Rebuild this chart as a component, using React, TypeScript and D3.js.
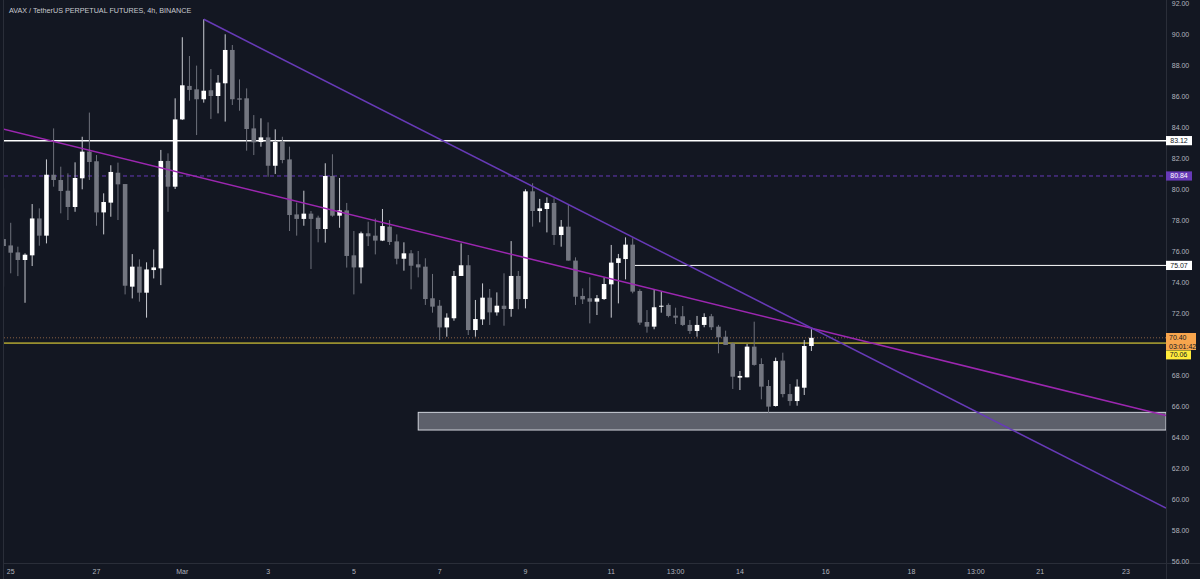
import { useEffect } from 'react';
import * as d3 from 'd3';

// 4h bars of AVAX/USDT perp, first bar is Feb 24 20:00 (index -1)
const firstBar = -1;
// open, high, low, close
const candles: [number, number, number, number][] = [
  [76.77, 80.04, 73.7, 76.32],
  [76.36, 77.82, 74.56, 75.89],
  [75.91, 76.28, 74.38, 75.42],
  [75.42, 75.85, 72.66, 75.76],
  [75.72, 79.03, 75.03, 78.1],
  [78.1, 78.75, 76.34, 76.99],
  [76.99, 81.91, 76.49, 80.92],
  [80.92, 83.91, 80.15, 80.58],
  [80.58, 81.44, 78.43, 79.87],
  [79.89, 81.01, 78.0, 78.84],
  [78.84, 81.72, 78.53, 80.71],
  [80.69, 83.37, 79.98, 82.41],
  [82.41, 84.93, 80.58, 81.74],
  [81.79, 82.19, 77.63, 78.49],
  [78.49, 79.72, 77.07, 79.16],
  [79.12, 81.53, 78.21, 81.1],
  [81.05, 81.7, 78.0, 80.3],
  [80.32, 80.32, 73.2, 73.76],
  [73.7, 75.8, 72.94, 74.99],
  [74.99, 75.46, 72.73, 73.31],
  [73.31, 75.27, 71.7, 74.81],
  [74.77, 76.1, 74.23, 74.94],
  [74.88, 82.52, 73.8, 81.81],
  [81.81, 82.3, 78.53, 80.15],
  [80.15, 85.85, 80.0, 84.49],
  [84.49, 89.79, 84.45, 86.69],
  [86.65, 88.58, 85.7, 86.39],
  [86.43, 87.96, 83.48, 85.79],
  [85.79, 90.95, 85.57, 86.34],
  [86.37, 87.74, 84.52, 86.0],
  [86.0, 87.35, 84.88, 86.86],
  [86.82, 89.98, 84.35, 88.97],
  [88.97, 89.29, 85.42, 85.79],
  [85.85, 87.07, 85.05, 85.76],
  [85.85, 86.49, 82.47, 83.87],
  [83.91, 84.77, 82.19, 83.01],
  [83.03, 84.56, 82.73, 83.33],
  [83.33, 84.3, 80.79, 81.5],
  [81.5, 83.85, 80.97, 83.03],
  [83.03, 83.37, 81.66, 81.87],
  [81.91, 82.73, 77.29, 78.32],
  [78.36, 79.12, 76.99, 78.07],
  [78.07, 79.89, 77.63, 78.41],
  [78.41, 78.58, 74.84, 78.07],
  [78.15, 78.28, 76.56, 77.42],
  [77.42, 81.66, 76.54, 80.84],
  [80.84, 82.24, 78.21, 78.28],
  [78.28, 80.71, 77.5, 78.62],
  [78.62, 79.1, 74.93, 75.68],
  [75.72, 77.29, 73.2, 74.94],
  [74.94, 77.25, 73.91, 77.14],
  [77.14, 77.89, 76.32, 76.95],
  [76.99, 78.09, 75.78, 76.67],
  [76.67, 78.71, 76.64, 77.61],
  [77.57, 78.0, 76.39, 76.58],
  [76.62, 77.07, 75.14, 75.5],
  [75.5, 76.56, 74.73, 75.85],
  [75.85, 76.06, 73.53, 75.05],
  [75.14, 76.0, 74.3, 74.94],
  [74.99, 75.53, 72.52, 72.9],
  [72.95, 74.52, 72.02, 72.41],
  [72.47, 72.84, 70.26, 71.07],
  [71.07, 71.98, 70.47, 71.7],
  [71.66, 74.71, 71.5, 74.39],
  [74.39, 76.49, 74.39, 75.08],
  [75.08, 75.74, 70.58, 70.9],
  [70.9, 72.84, 70.47, 71.61],
  [71.59, 73.91, 71.23, 72.99],
  [72.99, 73.55, 71.23, 72.04],
  [72.04, 73.33, 71.83, 72.47],
  [72.47, 74.56, 71.18, 72.26],
  [72.26, 76.64, 71.76, 74.39],
  [74.39, 74.71, 72.24, 72.9],
  [72.9, 79.98, 72.3, 79.85],
  [79.85, 80.37, 77.57, 78.58],
  [78.58, 79.36, 77.85, 78.75],
  [78.71, 79.46, 77.2, 79.1],
  [79.1, 79.4, 76.39, 77.03],
  [77.03, 78.0, 76.28, 77.57],
  [77.57, 78.97, 75.38, 75.38],
  [75.38, 75.59, 72.52, 73.05],
  [73.1, 73.59, 72.58, 72.88],
  [72.95, 74.3, 71.33, 72.73],
  [72.73, 73.16, 71.87, 72.95],
  [72.9, 74.3, 72.84, 73.87],
  [73.85, 76.39, 71.7, 75.25],
  [75.23, 75.81, 72.62, 75.53],
  [75.48, 76.88, 74.17, 76.41],
  [76.41, 76.82, 73.27, 73.38],
  [73.42, 73.53, 71.23, 71.38],
  [71.42, 72.19, 70.73, 71.12],
  [71.12, 73.53, 70.95, 72.37],
  [72.41, 73.38, 72.02, 72.47],
  [72.52, 72.62, 71.72, 71.81],
  [71.83, 72.34, 71.29, 71.7],
  [71.79, 72.45, 71.16, 71.23],
  [71.23, 71.55, 70.65, 70.84],
  [70.84, 71.81, 70.47, 71.23],
  [71.23, 71.98, 71.08, 71.74],
  [71.79, 71.94, 70.9, 71.08],
  [71.12, 71.23, 69.4, 70.43],
  [70.47, 70.86, 69.94, 69.94],
  [70.04, 70.09, 67.1, 67.89],
  [67.83, 68.26, 67.03, 67.94],
  [67.85, 70.0, 67.85, 69.83],
  [69.83, 71.44, 68.6, 68.65],
  [68.71, 69.08, 66.43, 67.25],
  [67.29, 67.68, 65.57, 65.96],
  [66.0, 69.12, 65.96, 68.9],
  [68.93, 69.44, 66.56, 66.77],
  [66.77, 67.42, 66.02, 66.32],
  [66.32, 67.72, 66.02, 67.25],
  [67.18, 70.26, 66.71, 69.87],
  [69.87, 70.95, 69.55, 70.4],
];

const priceTicks = [56, 58, 60, 62, 64, 66, 68, 70, 72, 74, 76, 78, 80, 82, 84, 86, 88, 90, 92];
const timeTicks: [number, string][] = [
  [0, '25'], [12, '27'], [24, 'Mar'], [36, '3'], [48, '5'], [60, '7'], [72, '9'],
  [84, '11'], [93, '13:00'], [102, '14'], [114, '16'], [126, '18'], [135, '13:00'],
  [144, '21'], [156, '23'],
];

// drawings
const resistance = 83.12;
const midLevel = 80.84;
const pivotLevel = 75.07;
const pivotFrom = 87;
const supportLevel = 70.06;
const lastPrice = 70.4;
const countdown = '03:01:42';
const zoneFrom = 57;
const zoneTop = 65.59;
const zoneBottom = 64.45;
const lowerZoneTop = 55.83;
const fallingTrend: [number, number][] = [[27, 90.95], [161.6, 59.42]];
const channelTrend: [number, number][] = [[-1.5, 83.92], [161.6, 65.38]];

const title = 'AVAX / TetherUS PERPETUAL FUTURES, 4h, BINANCE';

const W = 1200;
const H = 579;
const plotL = 4;
const plotR = 1166;
const plotB = 563;
const font = '"Liberation Sans", Arial, sans-serif';
const bg = '#131722';

export default function App() {
  useEffect(() => {
    document.body.style.margin = '0';
    document.body.style.background = bg;
  }, []);

  const x = d3.scaleLinear().domain([-1.5, 161.6]).range([0, plotR]);
  const y = d3.scaleLinear().domain([56, 92]).range([561, 3]);
  const bw = (x(1) - x(0)) * 0.64;

  const bars = candles.map((c, k) => ({ i: firstBar + k, o: c[0], h: c[1], l: c[2], c: c[3] }));
  const line = d3.line<[number, number]>().x((d) => x(d[0])).y((d) => y(d[1]));

  // axis labels hidden behind the price tags, like the platform does
  const tagRanges: [number, number][] = [
    [y(resistance) - 4.6, y(resistance) + 4.6],
    [y(midLevel) - 4.6, y(midLevel) + 4.6],
    [y(pivotLevel) - 4.6, y(pivotLevel) + 4.6],
    [y(lastPrice) - 4.8, y(lastPrice) + 21.6],
  ];
  const visibleTicks = priceTicks.filter(
    (v) => !tagRanges.some(([a, b]) => y(v) + 3 > a && y(v) - 3 < b)
  );

  const priceTag = (v: number, fill: string, color: string, w = 26) => (
    <g key={`tag-${v}`}>
      <rect x={plotR} y={y(v) - 4.6} width={w} height={9.2} fill={fill} />
      <text x={plotR + 13} y={y(v)} fill={color} fontSize={7} textAnchor="middle" dominantBaseline="central">
        {v.toFixed(2)}
      </text>
    </g>
  );

  return (
    <svg width={W} height={H} style={{ display: 'block', background: bg, fontFamily: font }}>
      <defs>
        <clipPath id="plot">
          <rect x={plotL} y={0} width={plotR - plotL} height={plotB} />
        </clipPath>
      </defs>
      <rect width={W} height={H} fill={bg} />

      <g clipPath="url(#plot)">
        {/* zones */}
        <rect
          x={x(zoneFrom)}
          y={y(zoneTop)}
          width={plotR - x(zoneFrom)}
          height={y(zoneBottom) - y(zoneTop)}
          fill="#5d606b"
          stroke="#d1d4dc"
          strokeWidth={1}
        />
        <line x1={x(zoneFrom)} x2={plotR} y1={y(lowerZoneTop)} y2={y(lowerZoneTop)} stroke="#d1d4dc" strokeWidth={1.5} />

        {/* horizontal levels */}
        <line x1={plotL} x2={plotR} y1={y(resistance)} y2={y(resistance)} stroke="#ffffff" strokeWidth={1.5} />
        <line x1={plotL} x2={plotR} y1={y(midLevel)} y2={y(midLevel)} stroke="#673ab7" strokeWidth={1} strokeDasharray="4,3" />
        <line x1={x(pivotFrom)} x2={plotR} y1={y(pivotLevel)} y2={y(pivotLevel)} stroke="#ffffff" strokeWidth={1} />
        <line x1={plotL} x2={plotR} y1={y(lastPrice)} y2={y(lastPrice)} stroke="#8a6244" strokeWidth={1} strokeDasharray="1,2" />
        <line x1={plotL} x2={plotR} y1={y(supportLevel)} y2={y(supportLevel)} stroke="#ffeb3b" strokeWidth={1} />

        {/* candles */}
        {bars.map((b) => {
          const up = b.c >= b.o;
          const cx = x(b.i);
          const top = y(Math.max(b.o, b.c));
          const bot = y(Math.min(b.o, b.c));
          return (
            <g key={b.i}>
              <line x1={cx} x2={cx} y1={y(b.h)} y2={y(b.l)} stroke={up ? '#c9cbd1' : '#6e717b'} strokeWidth={1} />
              <rect
                x={cx - bw / 2}
                y={top}
                width={bw}
                height={Math.max(1, bot - top)}
                fill={up ? '#ffffff' : '#737680'}
              />
            </g>
          );
        })}

        {/* trend lines */}
        <path d={line(channelTrend) ?? ''} stroke="#9c27b0" strokeWidth={1.5} fill="none" />
        <path d={line(fallingTrend) ?? ''} stroke="#673ab7" strokeWidth={1.5} fill="none" />
      </g>

      {/* axes frame */}
      <line x1={plotL - 0.5} x2={plotL - 0.5} y1={0} y2={H} stroke="#2a2e39" />
      <line x1={plotR + 0.5} x2={plotR + 0.5} y1={0} y2={H} stroke="#2a2e39" />
      <line x1={plotL} x2={W} y1={plotB + 0.5} y2={plotB + 0.5} stroke="#2a2e39" />

      {/* price axis */}
      {visibleTicks.map((v) => (
        <text key={v} x={1180.5} y={y(v)} fill="#b2b5be" fontSize={7} textAnchor="middle" dominantBaseline="central">
          {v.toFixed(2)}
        </text>
      ))}
      {priceTag(resistance, '#ffffff', '#131722')}
      {priceTag(midLevel, '#673ab7', '#ffffff')}
      {priceTag(pivotLevel, '#ffffff', '#131722')}
      <g>
        <rect x={plotR} y={y(lastPrice) - 4.8} width={30} height={17} fill="#f7a54d" />
        <text x={plotR + 3} y={y(lastPrice)} fill="#131722" fontSize={7} dominantBaseline="central">
          {lastPrice.toFixed(2)}
        </text>
        <text x={plotR + 3} y={y(lastPrice) + 8.5} fill="#131722" fontSize={7} dominantBaseline="central">
          {countdown}
        </text>
      </g>
      <g>
        <rect x={plotR} y={y(lastPrice) + 12.6} width={25} height={9} fill="#ffeb3b" />
        <text x={plotR + 12.5} y={y(lastPrice) + 17.1} fill="#131722" fontSize={7} textAnchor="middle" dominantBaseline="central">
          {supportLevel.toFixed(2)}
        </text>
      </g>

      {/* time axis */}
      {timeTicks.map(([i, label]) => (
        <text key={`${i}-${label}`} x={x(i)} y={571.5} fill="#b2b5be" fontSize={7} textAnchor="middle" dominantBaseline="central">
          {label}
        </text>
      ))}

      <text x={9} y={10} fill="#c8cad0" fontSize={7.2} dominantBaseline="central">
        {title}
      </text>
    </svg>
  );
}
